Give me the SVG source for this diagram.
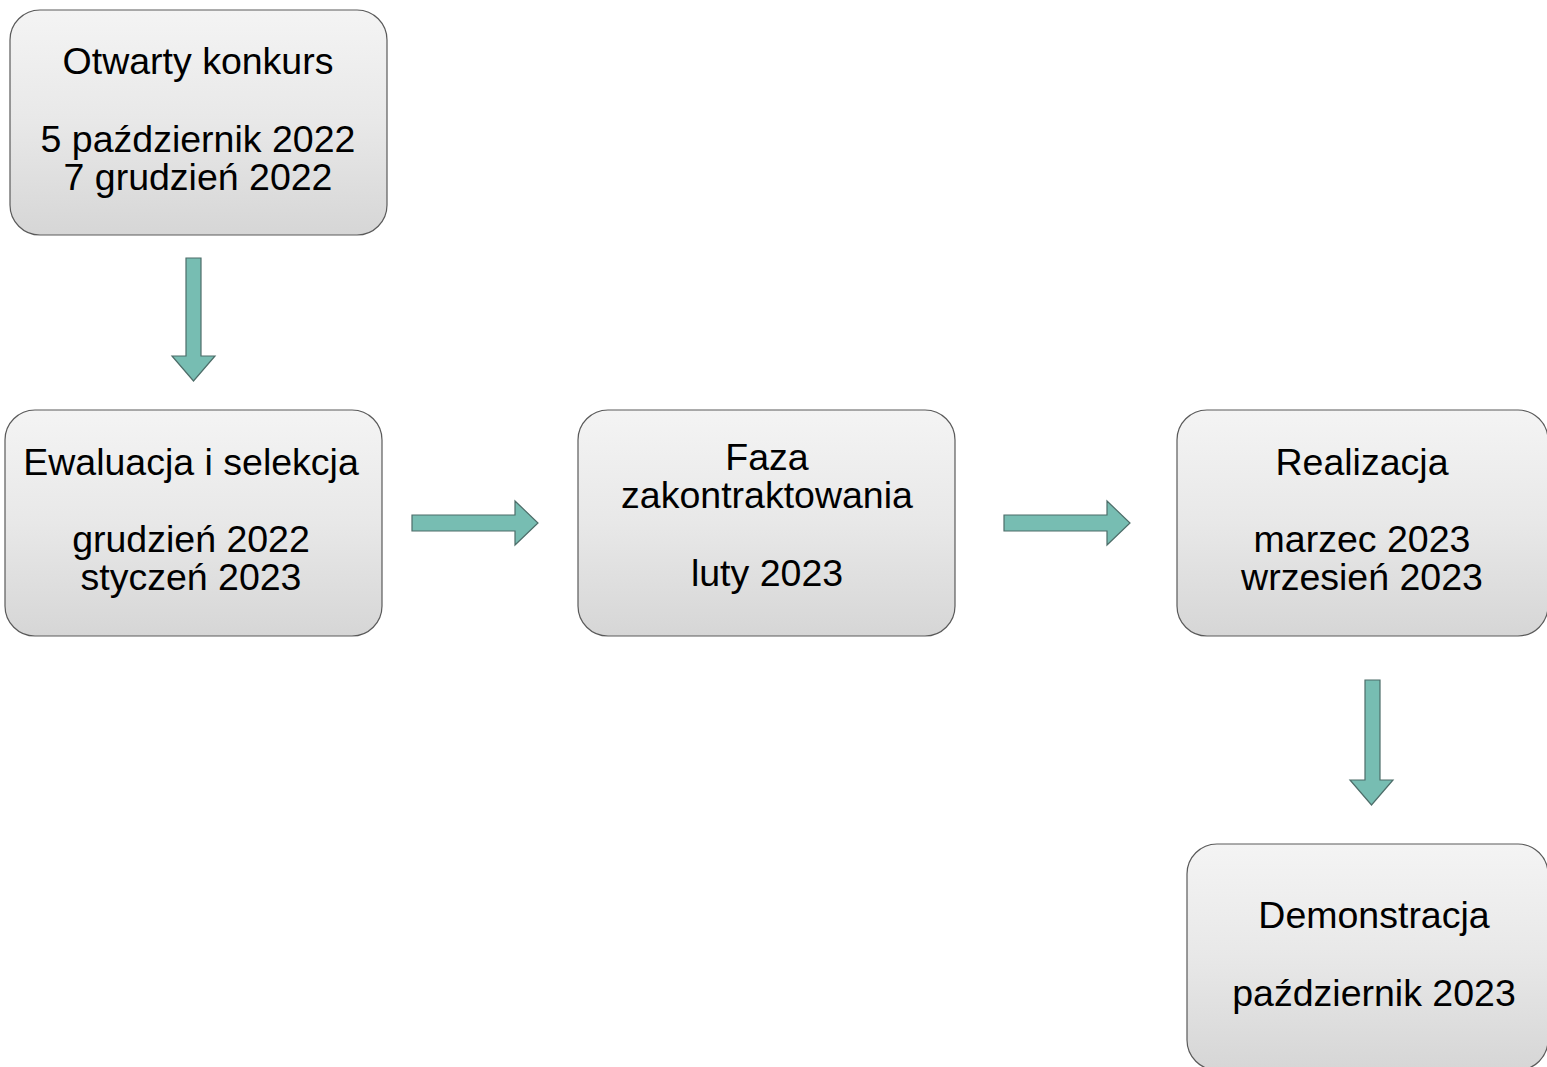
<svg xmlns="http://www.w3.org/2000/svg" width="1547" height="1067" viewBox="0 0 1547 1067">
<defs>
<linearGradient id="g" x1="0" y1="0" x2="0" y2="1">
<stop offset="0" stop-color="#f4f4f4"/>
<stop offset="0.5" stop-color="#e8e8e8"/>
<stop offset="1" stop-color="#d6d6d6"/>
</linearGradient>
<style>
.box{fill:url(#g);stroke:#5a5a5a;stroke-width:1.2}
.t{font-family:"Liberation Sans",Arial,sans-serif;font-size:37.5px;fill:#000;text-anchor:middle}
.ar{fill:#77bdb2;stroke:#4d6d69;stroke-width:1.2}
</style>
</defs>
<rect width="1547" height="1067" fill="#fff"/>
<g id="n1">
<rect class="box" x="10" y="10" width="377" height="225" rx="30"/>
<text class="t" x="198" y="74">Otwarty konkurs</text>
<text class="t" x="198" y="152">5 październik 2022</text>
<text class="t" x="198" y="190">7 grudzień 2022</text>
</g>
<g id="n2">
<rect class="box" x="5" y="410" width="377" height="226" rx="30"/>
<text class="t" x="191" y="475">Ewaluacja i selekcja</text>
<text class="t" x="191" y="552">grudzień 2022</text>
<text class="t" x="191" y="590">styczeń 2023</text>
</g>
<g id="n3">
<rect class="box" x="578" y="410" width="377" height="226" rx="30"/>
<text class="t" x="767" y="470">Faza</text>
<text class="t" x="767" y="508">zakontraktowania</text>
<text class="t" x="767" y="586">luty 2023</text>
</g>
<g id="n4">
<rect class="box" x="1177" y="410" width="371" height="226" rx="30"/>
<text class="t" x="1362" y="475">Realizacja</text>
<text class="t" x="1362" y="552">marzec 2023</text>
<text class="t" x="1362" y="590">wrzesień 2023</text>
</g>
<g id="n5">
<rect class="box" x="1187" y="844" width="361" height="226" rx="30"/>
<text class="t" x="1374" y="928">Demonstracja</text>
<text class="t" x="1374" y="1006">październik 2023</text>
</g>
<g id="connectors">
<path class="ar" d="M186,258 H201 V356 H215 L193.5,381 L172,356 H186 Z"/>
<path class="ar" d="M412,515 H515 V501 L538,523 L515,545 V531 H412 Z"/>
<path class="ar" d="M1004,515 H1107 V501 L1130,523 L1107,545 V531 H1004 Z"/>
<path class="ar" d="M1365,680 H1380 V780 H1393 L1371.5,805 L1350,780 H1365 Z"/>
</g>
</svg>
